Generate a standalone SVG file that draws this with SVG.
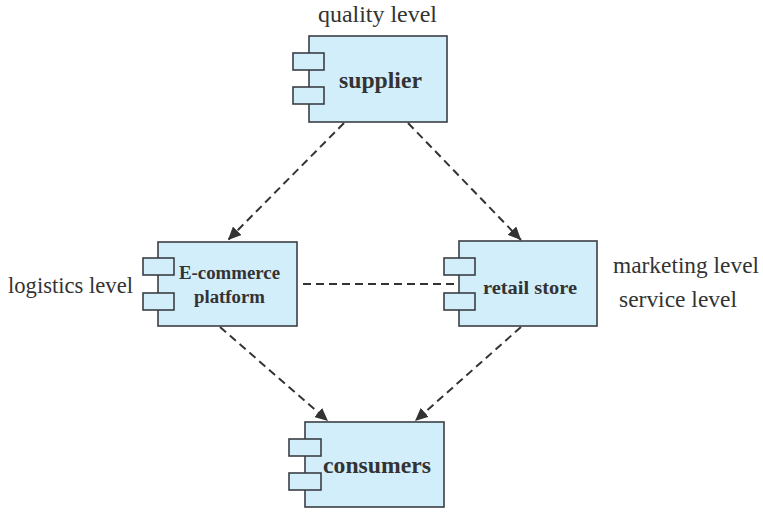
<svg xmlns="http://www.w3.org/2000/svg" width="763" height="512" viewBox="0 0 763 512">
<style>
.box{fill:#d3eefb;stroke:#3a3f44;stroke-width:1.6}
.tab{fill:#d3eefb;stroke:#3a3f44;stroke-width:1.6}
.name{font-family:'Liberation Serif','DejaVu Serif',serif;font-weight:bold;fill:#333;text-anchor:middle}
.lbl{font-family:'Liberation Serif','DejaVu Serif',serif;fill:#333;font-size:22.5px}
.dash{stroke:#333;stroke-width:2;stroke-dasharray:8,5;fill:none}
</style>
<defs>
<marker id="ah" markerUnits="userSpaceOnUse" markerWidth="14" markerHeight="12" refX="13" refY="6" orient="auto">
<path d="M0,0 L13,6 L0,12 z" fill="#333"/>
</marker>
</defs>
<rect width="763" height="512" fill="#fff"/>
<g id="connectors">
<line class="dash" x1="344" y1="123" x2="228" y2="240" marker-end="url(#ah)"/>
<line class="dash" x1="408" y1="123" x2="521" y2="240" marker-end="url(#ah)"/>
<line class="dash" x1="220" y1="327" x2="328" y2="421" marker-end="url(#ah)"/>
<line class="dash" x1="521" y1="327" x2="415" y2="421" marker-end="url(#ah)"/>
<line class="dash" x1="303" y1="284" x2="459" y2="284"/>
</g>
<g id="supplier">
<rect class="box" x="309" y="36" width="138" height="86"/>
<rect class="tab" x="293" y="53" width="31" height="17"/>
<rect class="tab" x="293" y="87" width="31" height="17"/>
<text class="name" x="380.5" y="88" font-size="23" textLength="83" lengthAdjust="spacingAndGlyphs">supplier</text>
</g>
<g id="ecommerce">
<rect class="box" x="158" y="242" width="139" height="84"/>
<rect class="tab" x="143" y="258" width="31" height="17"/>
<rect class="tab" x="143" y="293" width="31" height="17"/>
<text class="name" x="229.5" y="279" font-size="18.5" textLength="101" lengthAdjust="spacingAndGlyphs">E-commerce</text>
<text class="name" x="229.5" y="303" font-size="18.5" textLength="71" lengthAdjust="spacingAndGlyphs">platform</text>
</g>
<g id="retail">
<rect class="box" x="459" y="241" width="138" height="85"/>
<rect class="tab" x="444" y="258" width="31" height="17"/>
<rect class="tab" x="444" y="293" width="31" height="17"/>
<text class="name" x="530" y="294" font-size="19.5" textLength="94" lengthAdjust="spacingAndGlyphs">retail store</text>
</g>
<g id="consumers">
<rect class="box" x="305" y="422" width="139" height="85"/>
<rect class="tab" x="289" y="439" width="32" height="17"/>
<rect class="tab" x="289" y="473" width="32" height="17"/>
<text class="name" x="377" y="473" font-size="23.5" textLength="108" lengthAdjust="spacingAndGlyphs">consumers</text>
</g>
<g id="labels">
<text class="lbl" x="318" y="22" textLength="119" lengthAdjust="spacingAndGlyphs">quality level</text>
<text class="lbl" x="8" y="293" textLength="125" lengthAdjust="spacingAndGlyphs">logistics level</text>
<text class="lbl" x="613" y="273" textLength="146" lengthAdjust="spacingAndGlyphs">marketing level</text>
<text class="lbl" x="619" y="307" textLength="118" lengthAdjust="spacingAndGlyphs">service level</text>
</g>
</svg>
